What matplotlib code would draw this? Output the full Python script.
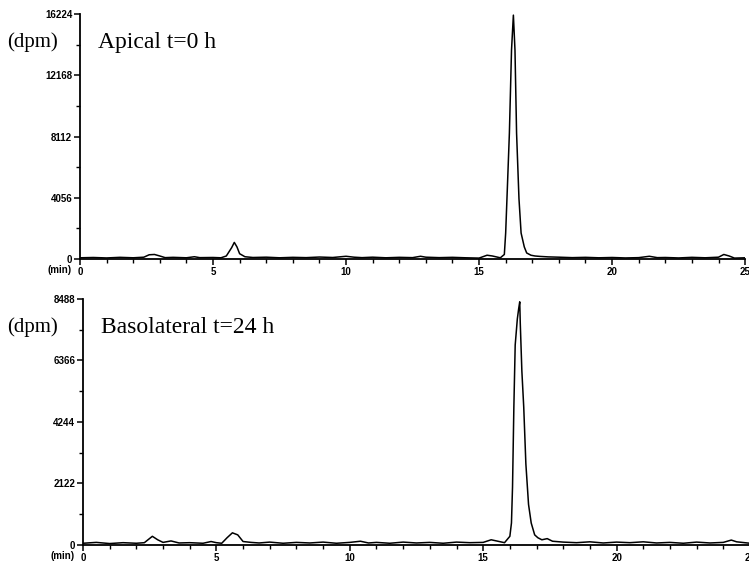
import matplotlib
matplotlib.use("Agg")
import matplotlib.pyplot as plt
from matplotlib.font_manager import FontProperties
from matplotlib.ticker import MultipleLocator, FixedLocator

# apical chamber, t = 0 h
apical_min = [0, 0.5, 1.0, 1.5, 2.0, 2.4, 2.6, 2.8, 3.0, 3.2, 3.5, 4.0, 4.3, 4.5,
              5.0, 5.3, 5.5, 5.7, 5.8, 5.9, 6.0, 6.2, 6.5, 7.0, 7.5, 8.0, 8.5,
              9.0, 9.5, 10.0, 10.3, 10.6, 11.0, 11.5, 12.0, 12.5, 12.8, 13.0,
              13.5, 14.0, 14.5, 15.0, 15.3, 15.5, 15.8, 15.95, 16.0, 16.07,
              16.14, 16.22, 16.29, 16.35, 16.41, 16.5, 16.58, 16.7, 16.79,
              16.95, 17.1, 17.3, 17.6, 18.0, 18.5, 19.0, 19.5, 20.0, 20.5, 21.0,
              21.4, 21.7, 22.0, 22.5, 23.0, 23.5, 24.0, 24.2, 24.4, 24.6, 25.0]
apical_dpm = [80, 100, 70, 110, 80, 120, 280, 300, 200, 90, 110, 80, 150, 90,
              100, 80, 200, 750, 1100, 800, 350, 150, 100, 120, 80, 110, 90,
              130, 100, 180, 120, 90, 120, 80, 110, 90, 180, 120,
              90, 110, 80, 60, 250, 200, 80, 300, 1720, 5000,
              8340, 13840, 16150, 13840, 8340, 4000, 1720, 800, 400,
              250, 200, 170, 140, 120, 90, 110, 80, 100, 70, 90,
              180, 90, 100, 70, 110, 80, 120, 300, 200, 60, 80]

# basolateral chamber, t = 24 h
baso_min = [0, 0.5, 1.0, 1.5, 2.0, 2.3, 2.6, 2.8, 3.0, 3.3, 3.6, 4.0, 4.5, 4.8,
            5.0, 5.2, 5.4, 5.6, 5.8, 6.0, 6.3, 6.6, 7.0, 7.5, 8.0, 8.5, 9.0,
            9.5, 10.0, 10.4, 10.7, 11.0, 11.5, 12.0, 12.5, 13.0, 13.5, 14.0,
            14.5, 15.0, 15.3, 15.5, 15.8, 16.0, 16.06, 16.1, 16.15, 16.2,
            16.28, 16.33, 16.37, 16.39, 16.45, 16.52, 16.6, 16.7, 16.8, 16.93,
            17.05, 17.2, 17.4, 17.6, 18.0, 18.5, 19.0, 19.5, 20.0, 20.5, 21.0,
            21.5, 22.0, 22.5, 23.0, 23.5, 24.0, 24.3, 24.5, 25.0]
baso_dpm = [60, 90, 50, 80, 60, 80, 300, 180, 90, 140, 70, 80, 60, 120,
            80, 60, 250, 420, 350, 120, 90, 70, 100, 60, 90, 70, 100,
            60, 90, 130, 70, 90, 60, 100, 70, 90, 60, 100,
            80, 90, 180, 140, 80, 300, 760, 2000, 4760, 6900,
            7800, 8150, 8390, 7660, 6000, 4760, 2800, 1400, 760, 350,
            250, 180, 220, 130, 100, 80, 110, 70, 100, 80, 110,
            70, 90, 60, 100, 70, 90, 170, 110, 60]

apical_ticks = [0, 4056, 8112, 12168, 16224]
baso_ticks = [0, 2122, 4244, 6366, 8488]

fig = plt.figure(figsize=(7.49, 5.72), dpi=100)
ax1 = fig.add_axes([0.1068, 0.5472, 0.888, 0.4283])
ax2 = fig.add_axes([0.1108, 0.0472, 0.8905, 0.4301])

tick_font = FontProperties(family="Liberation Sans", weight="bold", size=7)


def style(ax, ticks, label):
    for s in ("top", "right"):
        ax.spines[s].set_visible(False)
    for s in ("left", "bottom"):
        ax.spines[s].set_linewidth(1.3)
    ax.set_xlim(0, 25)
    ax.set_ylim(0, ticks[-1])
    ax.xaxis.set_major_locator(MultipleLocator(5))
    ax.xaxis.set_minor_locator(MultipleLocator(1))
    ax.yaxis.set_major_locator(FixedLocator(ticks))
    ax.yaxis.set_minor_locator(FixedLocator([(a + b) / 2 for a, b in zip(ticks[:-1], ticks[1:])]))
    ax.tick_params(which="major", length=4, width=1.1, pad=1.5)
    ax.tick_params(which="minor", length=3, width=1.0)
    for t in ax.get_xticklabels() + ax.get_yticklabels():
        t.set_fontproperties(tick_font)
    ax.text(-0.012, -0.045, "(min)", transform=ax.transAxes, ha="right", va="center",
            fontfamily="Liberation Sans", fontweight="bold", fontsize=7)
    pos = ax.get_position()
    fig.text(0.009, pos.y0 + 0.885 * pos.height, "(dpm)", ha="left", va="center",
             fontfamily="Liberation Serif", fontsize=15)
    ax.text(0.027, 0.885, label, transform=ax.transAxes, ha="left", va="center",
            fontfamily="Liberation Serif", fontsize=17)


ax1.plot(apical_min, apical_dpm, color="black", lw=1.1)
style(ax1, apical_ticks, "Apical t=0 h")

ax2.plot(baso_min, baso_dpm, color="black", lw=1.1)
style(ax2, baso_ticks, "Basolateral t=24 h")

plt.savefig("out.png", dpi=100)
